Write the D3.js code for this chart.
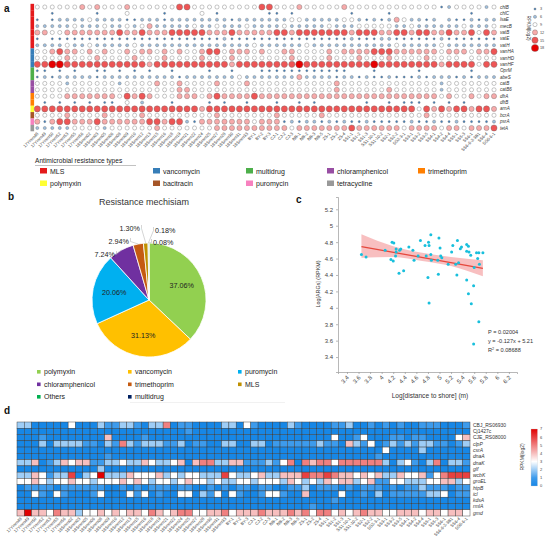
<!DOCTYPE html>
<html>
<head>
<meta charset="utf-8">
<script src="https://cdn.jsdelivr.net/npm/d3@7"></script>
<style>
  body { margin: 0; background: #fff; }
  svg { display: block; font-family: "Liberation Sans", Arial, sans-serif; }
</style>
</head>
<body>
<svg id="fig" width="545" height="543"></svg>
<script>
// ---------- data ----------
var samples = ["17Ymm48","17Ymm49","17Ymm50","17Ymm52","17Ymm53","17Ymm55","17Ymm56","18Smm02","18Smm03","18Smm05",
  "18Smm06","18Smm08","18Smm09","18Smm10","18Smm12","18Smm13","18Smm15","18Smm16","18Smm18","18Smm19",
  "18Smm21","18Smm22","18Smm24","18Smm25","18Smm27","18Smm28","18Smm30","18Smm31","18Smm33","BY-1",
  "BY-2","BY-3","CJ-1","CJ-2","CJ-3","NB-1","NB-2","NB-3","NB-5","ZS-1",
  "ZS-2","ZS-4","SS1-1","SS1-2","SS1-3","SS1-10-1","SS1-10-2","SS2-1","SS2-2","SS2-3-1",
  "SS3-1","SS3-2","SS3-5","SS4-1","SS4-2","SS4-4","SS5-1","SS5-3","SS6-1","SS6-6-2-3B1",
  "SS6-4","SS6-6-1"];

// panel a: ARG abundance class per sample ('.' = not detected, n -> sizeBreaks[n-1], RPKM(log2))
var argGenes = ["chlB","chlC","lsaE","mecB","vatB","vatE","vatH","vanHA","vanHD","vanHF",
  "OprM","abeS","catB","catB6","dfrA","dfrB","arnA","bcrA","psrA","tetA"];
var argClass = ["MLS","MLS","MLS","MLS","MLS","MLS","MLS","vancomycin","vancomycin","vancomycin",
  "multidrug","multidrug","chloramphenicol","chloramphenicol","trimethoprim","trimethoprim",
  "polymyxin","bacitracin","puromycin","tetracycline"];
var sizeBreaks = [3, 6, 9, 12, 15, 18];
var argLevels = [
  "3333334343" + "3343333335" + "5333333333" + "5533343333" + "3433333333" + "3333123333" + "23",
  "..1.....1." + "..3....1.." + "..3.1....." + ".11.1....." + "..1....1.." + "........1." + "..",
  "1.12222322" + "2211222122" + "2222221222" + "2222332222" + "2332121243" + "2212.21121" + "22",
  "2222232223" + "2232342222" + "2322322232" + "2223222223" + "2223333322" + "3222222322" + "23",
  "4433444444" + "4544544455" + "5554445444" + "4455455555" + "5545554455" + "4554454453" + "54",
  "1.11111111" + "1111111111" + "1111121111" + "1111111111" + "1121112211" + "1111211111" + "11",
  "2222322322" + "2223222222" + "2222222223" + "2222223222" + "2222222232" + "2222322222" + "22",
  "3345443434" + "3343443434" + "3345534443" + "4334433334" + "3444455544" + "4444344434" + "45",
  "3333433343" + "3334333433" + "3343334333" + "3333433334" + "3334333433" + "3343333.33" + "33",
  "5566555555" + "5555545555" + "5555554555" + "5555565555" + "5555565555" + "5555455553" + "55",
  "11.1.1..11" + ".1.1.1..1." + "...1..1..." + "1111111111" + "11...1...." + ".1......1." + "..",
  "1212222212" + "2222222221" + "2222222322" + "2222242222" + "1221211211" + "1212221212" + "22",
  "3333233333" + "3233334334" + "3333433343" + "3333333333" + "4333333333" + "3333233333" + "33",
  "3333333333" + "3333333334" + "4333333333" + "3333333333" + "4333333433" + "3333233333" + "33",
  "3333444444" + "4354543334" + "4434544445" + "4444444444" + "4444444444" + "4444343343" + "44",
  ".1.1.1.1.1" + "1.3.2...1." + "...1.1..1." + "..1..1.1.." + "....1..1.1" + "11.1.1.1.." + "..",
  "5555555555" + "5555555555" + "5545555555" + "5555555555" + "5555555555" + "5354545545" + "54",
  "3333433334" + "3333433333" + "3333433333" + "3343333343" + "3333333333" + "3343333333" + "33",
  "4145544454" + "4444455455" + "2144444443" + "4441212212" + "1211211111" + "2112112111" + "12",
  "2222233332" + "3333334333" + "3333444444" + "4444344444" + "4454444443" + "4444344344" + "45"
];

// panel b: resistance mechanism shares (%)
var mechNames = ["polymyxin","vancomycin","puromycin","chloramphenicol","trimethoprim","MLS","Others","multidrug"];
var mechPct = [37.06, 31.13, 20.06, 7.24, 2.94, 1.30, 0.18, 0.08];
var mechColors = ["#92d050","#ffc000","#00b0f0","#7030a0","#c55a11","#bf9000","#00b050","#002060"];

// panel c: log distance to shore vs log ARGs
var distLog = [3.65,3.73,4.06,4.18,4.21,4.16,4.20,4.25,4.25,4.24,4.31,4.33,4.30,4.38,4.47,4.54,4.56,4.63,4.67,4.75,
  4.81,4.82,4.85,4.77,4.85,4.86,4.80,4.82,4.99,5.01,4.97,5.02,5.04,4.98,5.15,5.23,5.21,5.31,5.36,5.38,
  5.33,5.30,5.28,5.47,5.50,5.47,5.51,5.47,5.50,5.55,5.54,5.59,5.60,5.64,5.66,5.68,5.69,5.75,5.68,5.59];
var argLog = [4.65,4.62,4.70,4.80,4.79,4.59,4.57,4.715,4.68,4.63,4.70,4.715,4.42,4.45,4.74,4.70,4.58,4.63,4.82,4.76,
  4.80,4.76,4.89,4.63,4.65,4.58,4.37,4.06,4.85,4.73,4.58,4.63,4.61,4.41,4.53,4.76,4.68,4.82,4.72,4.74,
  4.55,4.40,4.53,4.77,4.75,4.69,4.68,4.34,4.17,4.05,4.64,4.27,4.49,4.67,4.60,4.67,4.53,4.67,3.83,3.56];
var fitSlope = -0.127, fitIntercept = 5.21;
var ciX = [3.65, 4.2, 4.7, 5.2, 5.75];
var ciLo = [4.61, 4.62, 4.57, 4.51, 4.385];
var ciHi = [4.895, 4.75, 4.67, 4.62, 4.58];

// panel d: virulence gene expression, RPKM(log2) per sample (one digit per sample)
var hmGenes = ["CBJ_RS06930","Cj1427c","CJE_RS08000","clpP","csrA","dnaA","dnaK","glf","wcbK","groEL","htpB","icl","kdsA","rmlA","gmd"];
var hmRows = [
  "2200000300" + "0211221022" + "5011000022" + "0310000210" + "0001120010" + "1010011100" + "01",
  "0000000000" + "0000000000" + "0001000000" + "0000000000" + "0000000000" + "0000000000" + "00",
  "0001000000" + "0040000100" + "0000000000" + "0000000000" + "0003001300" + "0110110000" + "34",
  "0002022221" + "1021521222" + "1120110022" + "0022011111" + "1211042130" + "1212122110" + "12",
  "0000000000" + "0000000000" + "0000000000" + "0000000000" + "0000000000" + "3000020000" + "00",
  "0000000000" + "0010000000" + "0000000000" + "0000000000" + "0000000001" + "0000000000" + "00",
  "2240124344" + "1122322432" + "2340455224" + "4111213505" + "4553555555" + "2023102502" + "21",
  "0000000000" + "0200000000" + "0000000000" + "0000000000" + "0000000000" + "0000000000" + "00",
  "2243122602" + "3722243334" + "2323322263" + "2234224446" + "5565443434" + "2243341356" + "66",
  "3343233433" + "2333434323" + "3234332322" + "3323332432" + "3243442341" + "1332223344" + "23",
  "0111101111" + "1100101011" + "1011001010" + "1101100112" + "0111010111" + "0101121110" + "11",
  "0031031000" + "1300031301" + "0033021303" + "1001331004" + "0000300102" + "0111112230" + "11",
  "0000000000" + "0000000000" + "0000000000" + "0000000000" + "0001000000" + "0000000000" + "00",
  "0000000000" + "0000000000" + "0000000000" + "0000000000" + "1000000000" + "0000000000" + "00",
  "4744354423" + "3434344354" + "3455334453" + "4445444545" + "3553434544" + "3344434434" + "43"
];

var typeNames = ["MLS","vancomycin","multidrug","chloramphenicol","trimethoprim","polymyxin","bacitracin","puromycin","tetracycline"];
var typeColors = ["#e41a1c","#377eb8","#4daf4a","#984ea3","#ff7f00","#ffff33","#a65628","#f781bf","#999999"];

// ---------- drawing ----------
var svg = d3.select("#fig");
var typeColor = d3.scaleOrdinal().domain(typeNames).range(typeColors);

function panelLabel(t, x, y){
  svg.append("text").attr("x", x).attr("y", y).attr("font-size", 10)
    .attr("font-weight", "bold").attr("fill", "#111").text(t);
}

/* ===== panel a: bubble matrix ===== */
(function(){
  var g = svg.append("g");
  var x = d3.scalePoint().domain(samples).range([37.3, 494]);
  var y = d3.scalePoint().domain(argGenes).range([7, 128]);
  var step = y.step();
  var r = d3.scaleLinear().domain([3, 18]).range([1.05, 3.6]);
  var col = d3.scaleLinear().domain([3, 9, 18]).range(["#3d7fbf", "#ffffff", "#e60000"]);

  g.selectAll("rect.side").data(argGenes).enter().append("rect")
    .attr("x", 30.5).attr("width", 3.6)
    .attr("y", function(d){ return y(d) - step / 2; })
    .attr("height", step + 0.1)
    .attr("fill", function(d, i){ return typeColor(argClass[i]); });

  var cells = [];
  argLevels.forEach(function(row, i){
    for (var j = 0; j < samples.length; j++){
      var c = row.charAt(j);
      if (c === "." || c === "") continue;
      cells.push({gene: argGenes[i], s: samples[j], v: sizeBreaks[+c - 1]});
    }
  });
  g.selectAll("circle.cell").data(cells).enter().append("circle")
    .attr("cx", function(d){ return x(d.s); })
    .attr("cy", function(d){ return y(d.gene); })
    .attr("r", function(d){ return r(d.v); })
    .attr("fill", function(d){ return col(d.v); })
    .attr("stroke", "#6f6f6f").attr("stroke-width", 0.4);

  g.selectAll("text.gene").data(argGenes).enter().append("text")
    .attr("x", 500).attr("y", function(d){ return y(d) + 1.6; })
    .attr("font-size", 4.6).attr("font-style", "italic").attr("fill", "#333")
    .text(function(d){ return d; });

  g.selectAll("text.samp").data(samples).enter().append("text")
    .attr("transform", function(d){ return "translate(" + (x(d) + 1.5) + ",134) rotate(-45)"; })
    .attr("text-anchor", "end").attr("font-size", 4.3).attr("fill", "#444")
    .text(function(d){ return d; });

  // size legend
  var ly = d3.scalePoint().domain(sizeBreaks).range([9, 48]);
  g.selectAll("circle.leg").data(sizeBreaks).enter().append("circle")
    .attr("cx", 535).attr("cy", function(d){ return ly(d); })
    .attr("r", function(d){ return r(d); })
    .attr("fill", function(d){ return col(d); })
    .attr("stroke", "#6f6f6f").attr("stroke-width", 0.4);
  g.selectAll("text.leg").data(sizeBreaks).enter().append("text")
    .attr("x", 540).attr("y", function(d){ return ly(d) + 1.4; })
    .attr("font-size", 3.8).attr("fill", "#444").text(function(d){ return d; });
  g.append("text").attr("transform", "translate(527,28) rotate(90)")
    .attr("text-anchor", "middle").attr("font-size", 4.6).attr("fill", "#333").text("RPKM(log2)");

  // type legend
  g.append("text").attr("x", 35).attr("y", 163).attr("font-size", 6.6).attr("fill", "#222")
    .text("Antimicrobial resistance types");
  g.append("line").attr("x1", 35).attr("x2", 136).attr("y1", 165.5).attr("y2", 165.5)
    .attr("stroke", "#999").attr("stroke-width", 0.6);
  var colX = [40, 153, 246, 327, 418];
  var items = g.selectAll("g.item").data(typeNames).enter().append("g")
    .attr("transform", function(d, i){
      var row = i < 5 ? 0 : 1, c = i < 5 ? i : i - 5;
      return "translate(" + colX[c] + "," + (168 + row * 12.5) + ")";
    });
  items.append("rect").attr("width", 7).attr("height", 5.5)
    .attr("fill", function(d){ return typeColor(d); });
  items.append("text").attr("x", 10).attr("y", 5.5).attr("font-size", 7).attr("fill", "#222")
    .text(function(d){ return d; });
})();
panelLabel("a", 4, 12);

/* ===== panel b: pie ===== */
(function(){
  var cx = 149, cy = 300, R = 57;
  var g = svg.append("g").attr("transform", "translate(" + cx + "," + cy + ")");
  svg.append("text").attr("x", 144).attr("y", 205).attr("text-anchor", "middle")
    .attr("font-size", 9).attr("fill", "#333").text("Resistance mechisiam");

  var pie = d3.pie().sort(null).value(function(d){ return d; });
  var arcs = pie(mechPct);
  var arc = d3.arc().innerRadius(0).outerRadius(R);
  var labArc = d3.arc().innerRadius(R * 0.3).outerRadius(R * 0.95);
  g.selectAll("path").data(arcs).enter().append("path")
    .attr("d", arc)
    .attr("fill", function(d, i){ return mechColors[i]; })
    .attr("stroke", "#fff").attr("stroke-width", 0.8);

  var fmt = function(v){ return v.toFixed(2) + "%"; };
  g.selectAll("text.in").data(arcs.slice(0, 3)).enter().append("text")
    .attr("transform", function(d){ return "translate(" + labArc.centroid(d) + ")"; })
    .attr("text-anchor", "middle").attr("dy", "0.35em")
    .attr("font-size", 7.2).attr("fill", "#222").text(function(d){ return fmt(d.value); });

  // outside labels: text anchor offsets relative to the pie centre
  var outPos = [null, null, null, [-34, -43], [-20, -56], [-9, -69], [6, -67], [4, -55]];
  var edge = d3.arc().innerRadius(R).outerRadius(R);
  arcs.forEach(function(d, i){
    if (!outPos[i]) return;
    var p = outPos[i];
    var e = edge.centroid(d);
    var right = p[0] > 0;
    var bx = right ? p[0] - 1.5 : p[0] + 1.5;
    g.append("polyline")
      .attr("points", [e, [bx, p[1] - 2.5], [bx, p[1] - 6]].map(function(q){ return q.join(","); }).join(" "))
      .attr("fill", "none").attr("stroke", "#aaa").attr("stroke-width", 0.5);
    g.append("text").attr("x", p[0]).attr("y", p[1])
      .attr("text-anchor", right ? "start" : "end")
      .attr("font-size", 7.2).attr("fill", "#222").text(fmt(d.value));
  });

  var lx = [37, 128, 238];
  var leg = svg.selectAll("g.pieleg").data(mechNames).enter().append("g")
    .attr("transform", function(d, i){
      return "translate(" + lx[i % 3] + "," + (370 + Math.floor(i / 3) * 12.5) + ")";
    });
  leg.append("rect").attr("width", 3.6).attr("height", 3.6)
    .attr("fill", function(d, i){ return mechColors[i]; });
  leg.append("text").attr("x", 7).attr("y", 4.2).attr("font-size", 7).attr("fill", "#222")
    .text(function(d){ return d; });
  svg.append("line").attr("x1", 130).attr("x2", 285).attr("y1", 402.5).attr("y2", 402.5)
    .attr("stroke", "#eee").attr("stroke-width", 0.8);
})();
panelLabel("b", 8, 200);

/* ===== panel c: scatter + fit ===== */
(function(){
  var g = svg.append("g");
  var x = d3.scaleLinear().domain([3.245, 6.34]).range([338, 517]);
  var y = d3.scaleLinear().domain([3.218, 5.35]).range([372, 197]);
  var fmt = function(d){ return String(+d.toFixed(1)); };

  var area = d3.area().curve(d3.curveMonotoneX)
    .x(function(d){ return x(d); })
    .y0(function(d, i){ return y(ciLo[i]); })
    .y1(function(d, i){ return y(ciHi[i]); });
  g.append("path").datum(ciX).attr("d", area).attr("fill", "#f6a9ab").attr("opacity", 0.75);

  var ends = [d3.min(distLog), d3.max(distLog)];
  g.append("line")
    .attr("x1", x(ends[0])).attr("y1", y(fitSlope * ends[0] + fitIntercept))
    .attr("x2", x(ends[1])).attr("y2", y(fitSlope * ends[1] + fitIntercept))
    .attr("stroke", "#e5483d").attr("stroke-width", 1.3);

  g.selectAll("circle.pt").data(distLog).enter().append("circle")
    .attr("cx", function(d){ return x(d); })
    .attr("cy", function(d, i){ return y(argLog[i]); })
    .attr("r", 1.5).attr("fill", "#18bfdc");

  var ya = g.append("g").attr("transform", "translate(338,0)")
    .call(d3.axisLeft(y).tickValues(d3.range(3.4, 5.21, 0.2)).tickSize(2).tickFormat(fmt));
  var xa = g.append("g").attr("transform", "translate(0,372)")
    .call(d3.axisBottom(x).tickValues(d3.range(3.4, 6.21, 0.2)).tickSize(2).tickFormat(fmt));
  [ya, xa].forEach(function(a){
    a.selectAll("path,line").attr("stroke", "#999").attr("stroke-width", 0.7);
    a.selectAll("text").attr("font-size", 6).attr("fill", "#444").attr("font-family", null);
  });
  xa.selectAll("text").attr("text-anchor", "end").attr("dy", null).attr("y", 0)
    .attr("transform", "translate(2,6) rotate(-45)");

  g.append("text").attr("x", 430).attr("y", 398).attr("text-anchor", "middle")
    .attr("font-size", 6.6).attr("fill", "#333").text("Log[distance to shore] (m)");
  g.append("text").attr("transform", "translate(320,284) rotate(-90)").attr("text-anchor", "middle")
    .attr("font-size", 5.4).attr("fill", "#333").text("Log[ARGs] (RPKM)");

  var st = g.append("g").attr("font-size", 5.6).attr("fill", "#333");
  st.append("text").attr("x", 488).attr("y", 334).text("P = 0.02004");
  st.append("text").attr("x", 488).attr("y", 342.5).text("y = -0.127x + 5.21");
  var r2 = st.append("text").attr("x", 488).attr("y", 352);
  r2.append("tspan").text("R");
  r2.append("tspan").attr("dy", -2).attr("font-size", 3.8).text("2");
  r2.append("tspan").attr("dy", 2).text(" = 0.08688");
})();
panelLabel("c", 296, 203);

/* ===== panel d: heatmap ===== */
(function(){
  var g = svg.append("g");
  var x = d3.scaleBand().domain(samples).range([17, 470]);
  var y = d3.scaleBand().domain(hmGenes).range([422, 516]);
  var col = d3.scaleLinear().domain([0, 1, 3, 7]).range(["#1787e6", "#3d9bec", "#ffffff", "#e00000"]);

  var cells = [];
  hmRows.forEach(function(row, i){
    for (var j = 0; j < samples.length; j++){
      cells.push({gene: hmGenes[i], s: samples[j], v: +row.charAt(j)});
    }
  });
  g.selectAll("rect.cell").data(cells).enter().append("rect")
    .attr("x", function(d){ return x(d.s); })
    .attr("y", function(d){ return y(d.gene); })
    .attr("width", x.bandwidth()).attr("height", y.bandwidth())
    .attr("fill", function(d){ return col(d.v); })
    .attr("stroke", "#3a3a3a").attr("stroke-width", 0.45);

  g.selectAll("text.gene").data(hmGenes).enter().append("text")
    .attr("x", 473).attr("y", function(d){ return y(d) + y.bandwidth() / 2 + 1.8; })
    .attr("font-size", 5).attr("fill", "#333")
    .attr("font-style", function(d){ return /^[a-z]/.test(d) ? "italic" : "normal"; })
    .text(function(d){ return d; });

  g.selectAll("text.samp").data(samples).enter().append("text")
    .attr("transform", function(d){ return "translate(" + (x(d) + x.bandwidth() / 2 + 1.5) + ",519) rotate(-45)"; })
    .attr("text-anchor", "end").attr("font-size", 4.3).attr("fill", "#444")
    .text(function(d){ return d; });

  // colour bar
  var cb = d3.scaleLinear().domain([0, 7]).range([486, 429]);
  var grad = svg.append("defs").append("linearGradient").attr("id", "hmgrad")
    .attr("x1", 0).attr("x2", 0).attr("y1", 1).attr("y2", 0);
  d3.range(0, 7.01, 0.5).forEach(function(v){
    grad.append("stop").attr("offset", v / 7).attr("stop-color", col(v));
  });
  g.append("rect").attr("x", 531).attr("y", cb(7)).attr("width", 6.5).attr("height", cb(0) - cb(7))
    .attr("fill", "url(#hmgrad)").attr("stroke", "#ccc").attr("stroke-width", 0.3);
  g.selectAll("text.cb").data(d3.range(0, 8)).enter().append("text")
    .attr("x", 540).attr("y", function(d){ return cb(d) + 1.4; })
    .attr("font-size", 4).attr("fill", "#444").text(function(d){ return d; });
  g.append("text").attr("transform", "translate(524,457) rotate(-90)").attr("text-anchor", "middle")
    .attr("font-size", 5).attr("fill", "#333").text("RPKM(log2)");
})();
panelLabel("d", 4, 414);
</script>
</body>
</html>
